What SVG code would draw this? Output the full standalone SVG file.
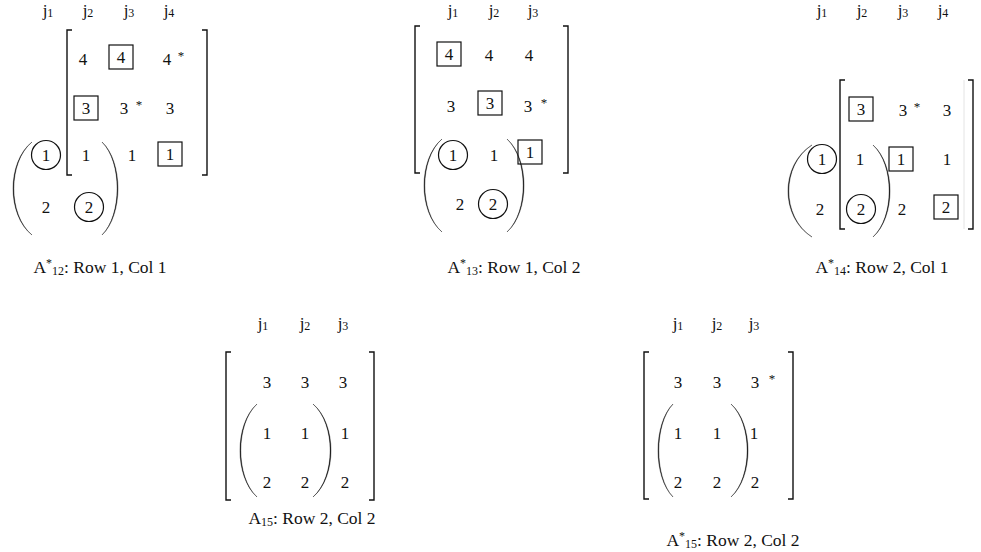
<svg xmlns="http://www.w3.org/2000/svg" width="981" height="552" viewBox="0 0 981 552" font-family="'Liberation Serif', 'Times New Roman', 'DejaVu Serif', serif">
  <style>
    text { font-family: 'Liberation Serif', 'Times New Roman', 'DejaVu Serif', serif; fill: #111; }
    .n { font-size: 17px; text-anchor: middle; }
    .j { font-size: 17px; text-anchor: middle; }
    .cap { font-size: 17.5px; text-anchor: middle; }
    .sub { font-size: 12px; }
    .sup { font-size: 12px; }
    .star { font-size: 13px; text-anchor: middle; }
    .brk { fill: none; stroke: #111; stroke-width: 1.4; }
    .paren { fill: #111; stroke: #111; stroke-width: 0.4; stroke-linejoin: round; }
    .box { fill: none; stroke: #111; stroke-width: 1.2; }
    .circ { fill: none; stroke: #111; stroke-width: 1.2; }
    .faint { fill: none; stroke: #e4e4e4; stroke-width: 1; }
  </style>

  <!-- Matrix A*12 -->
  <g id="m12">
    <text class="j" x="48" y="16">j<tspan class="sub" dy="1">1</tspan></text>
    <text class="j" x="88" y="16">j<tspan class="sub" dy="1">2</tspan></text>
    <text class="j" x="129" y="16">j<tspan class="sub" dy="1">3</tspan></text>
    <text class="j" x="169" y="16">j<tspan class="sub" dy="1">4</tspan></text>
    <path class="brk" d="M72 30H67V175H72"/>
    <path class="brk" d="M202 30H207V175H202"/>
    <path class="paren" d="M32 142C6.7 162 6.7 215 32 235C7.8 215 7.8 162 32 142Z"/>
    <path class="paren" d="M102 142C123.3 162 123.3 215 102 235C122.2 215 122.2 162 102 142Z"/>
    <text class="n" x="83" y="65">4</text>
    <rect class="box" x="109" y="45" width="24" height="24"/>
    <text class="n" x="121" y="63">4</text>
    <text class="n" x="167" y="65">4</text>
    <text class="star" x="181" y="60">*</text>
    <rect class="box" x="74" y="96" width="24" height="24"/>
    <text class="n" x="86" y="114">3</text>
    <text class="n" x="124" y="114">3</text>
    <text class="star" x="139" y="109">*</text>
    <text class="n" x="170" y="114">3</text>
    <circle class="circ" cx="46" cy="155" r="14.5"/>
    <text class="n" x="46" y="161">1</text>
    <text class="n" x="86" y="161">1</text>
    <text class="n" x="132" y="161">1</text>
    <rect class="box" x="158" y="142" width="24" height="24"/>
    <text class="n" x="170" y="160">1</text>
    <text class="n" x="46" y="213">2</text>
    <circle class="circ" cx="89" cy="207" r="14.5"/>
    <text class="n" x="89" y="213">2</text>
    <text class="cap" x="100" y="273">A<tspan class="sup" dy="-6">*</tspan><tspan class="sub" dy="8">12</tspan><tspan dy="-2">: Row 1, Col 1</tspan></text>
  </g>

  <!-- Matrix A*13 -->
  <g id="m13">
    <text class="j" x="453" y="16">j<tspan class="sub" dy="1">1</tspan></text>
    <text class="j" x="494" y="16">j<tspan class="sub" dy="1">2</tspan></text>
    <text class="j" x="533" y="16">j<tspan class="sub" dy="1">3</tspan></text>
    <path class="brk" d="M420 26H415V173H420"/>
    <path class="brk" d="M563 26H568V173H563"/>
    <path class="paren" d="M442 139C418 159 418 212 442 232C419.1 212 419.1 159 442 139Z"/>
    <path class="paren" d="M507 139C529.7 159 529.7 212 507 232C528.6 212 528.6 159 507 139Z"/>
    <rect class="box" x="437" y="42" width="24" height="24"/>
    <text class="n" x="449" y="60">4</text>
    <text class="n" x="489" y="61">4</text>
    <text class="n" x="529" y="61">4</text>
    <text class="n" x="451" y="112">3</text>
    <rect class="box" x="478" y="91" width="24" height="24"/>
    <text class="n" x="490" y="109">3</text>
    <text class="n" x="528" y="112">3</text>
    <text class="star" x="544" y="107">*</text>
    <circle class="circ" cx="453" cy="155" r="14.5"/>
    <text class="n" x="453" y="161">1</text>
    <text class="n" x="494" y="161">1</text>
    <rect class="box" x="518" y="140" width="24" height="24"/>
    <text class="n" x="530" y="158">1</text>
    <text class="n" x="460" y="210">2</text>
    <circle class="circ" cx="493" cy="204" r="14.5"/>
    <text class="n" x="493" y="210">2</text>
    <text class="cap" x="514" y="273">A<tspan class="sup" dy="-6">*</tspan><tspan class="sub" dy="8">13</tspan><tspan dy="-2">: Row 1, Col 2</tspan></text>
  </g>

  <!-- Matrix A*14 -->
  <g id="m14">
    <text class="j" x="822" y="16">j<tspan class="sub" dy="1">1</tspan></text>
    <text class="j" x="862" y="16">j<tspan class="sub" dy="1">2</tspan></text>
    <text class="j" x="903" y="16">j<tspan class="sub" dy="1">3</tspan></text>
    <text class="j" x="943" y="16">j<tspan class="sub" dy="1">4</tspan></text>
    <path class="brk" d="M845 80H840V229H845"/>
    <line class="faint" x1="964" y1="80" x2="964" y2="229"/>
    <path class="brk" d="M968 80H973V229H968"/>
    <path class="paren" d="M812 145C780 165 780 217 812 237C781.1 217 781.1 165 812 145Z"/>
    <path class="paren" d="M873 145C895.7 165 895.7 217 873 237C894.6 217 894.6 165 873 145Z"/>
    <rect class="box" x="849" y="97" width="24" height="24"/>
    <text class="n" x="861" y="115">3</text>
    <text class="n" x="903" y="116">3</text>
    <text class="star" x="917" y="111">*</text>
    <text class="n" x="947" y="116">3</text>
    <circle class="circ" cx="822" cy="159" r="14.5"/>
    <text class="n" x="822" y="165">1</text>
    <text class="n" x="860" y="165">1</text>
    <rect class="box" x="889" y="147" width="24" height="24"/>
    <text class="n" x="901" y="165">1</text>
    <text class="n" x="947" y="165">1</text>
    <text class="n" x="820" y="215">2</text>
    <circle class="circ" cx="861" cy="209" r="14.5"/>
    <text class="n" x="861" y="215">2</text>
    <text class="n" x="902" y="215">2</text>
    <rect class="box" x="934" y="195" width="24" height="24"/>
    <text class="n" x="946" y="213">2</text>
    <text class="cap" x="882" y="273">A<tspan class="sup" dy="-6">*</tspan><tspan class="sub" dy="8">14</tspan><tspan dy="-2">: Row 2, Col 1</tspan></text>
  </g>

  <!-- Matrix A15 -->
  <g id="m15">
    <text class="j" x="263" y="329">j<tspan class="sub" dy="1">1</tspan></text>
    <text class="j" x="305" y="329">j<tspan class="sub" dy="1">2</tspan></text>
    <text class="j" x="343" y="329">j<tspan class="sub" dy="1">3</tspan></text>
    <path class="brk" d="M231 352H226V500H231"/>
    <path class="brk" d="M369 352H374V500H369"/>
    <path class="paren" d="M257 404C234.3 424 234.3 477 257 497C235.4 477 235.4 424 257 404Z"/>
    <path class="paren" d="M313 404C337 424 337 477 313 497C335.9 477 335.9 424 313 404Z"/>
    <text class="n" x="267" y="388">3</text>
    <text class="n" x="305" y="388">3</text>
    <text class="n" x="343" y="388">3</text>
    <text class="n" x="267" y="439">1</text>
    <text class="n" x="305" y="439">1</text>
    <text class="n" x="345" y="439">1</text>
    <text class="n" x="267" y="488">2</text>
    <text class="n" x="305" y="488">2</text>
    <text class="n" x="345" y="488">2</text>
    <text class="cap" x="312" y="524">A<tspan class="sub" dy="2">15</tspan><tspan dy="-2">: Row 2, Col 2</tspan></text>
  </g>

  <!-- Matrix A*15 -->
  <g id="m15s">
    <text class="j" x="678" y="329">j<tspan class="sub" dy="1">1</tspan></text>
    <text class="j" x="717" y="329">j<tspan class="sub" dy="1">2</tspan></text>
    <text class="j" x="754" y="329">j<tspan class="sub" dy="1">3</tspan></text>
    <path class="brk" d="M649 352H644V499H649"/>
    <path class="brk" d="M788 352H793V499H788"/>
    <path class="paren" d="M673 404C653 424 653 477 673 497C654.1 477 654.1 424 673 404Z"/>
    <path class="paren" d="M731 404C753.7 424 753.7 477 731 497C752.6 477 752.6 424 731 404Z"/>
    <text class="n" x="678" y="388">3</text>
    <text class="n" x="717" y="388">3</text>
    <text class="n" x="755" y="388">3</text>
    <text class="star" x="772" y="383">*</text>
    <text class="n" x="678" y="439">1</text>
    <text class="n" x="717" y="439">1</text>
    <text class="n" x="754" y="439">1</text>
    <text class="n" x="678" y="488">2</text>
    <text class="n" x="717" y="488">2</text>
    <text class="n" x="755" y="488">2</text>
    <text class="cap" x="733" y="546">A<tspan class="sup" dy="-6">*</tspan><tspan class="sub" dy="8">15</tspan><tspan dy="-2">: Row 2, Col 2</tspan></text>
  </g>
</svg>
